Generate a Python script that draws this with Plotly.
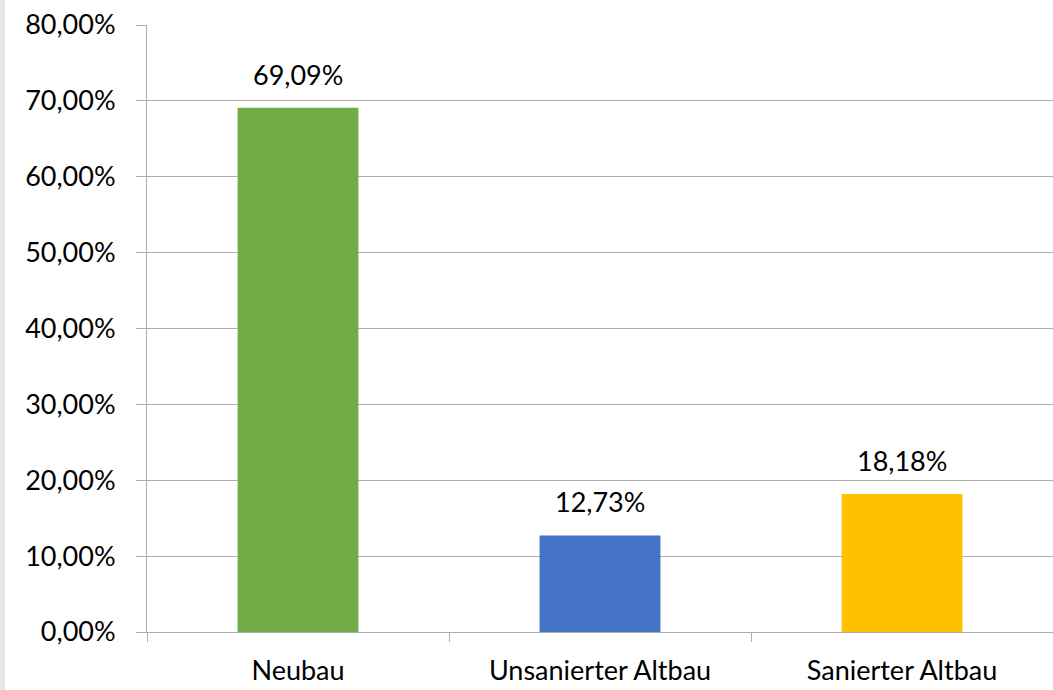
import plotly.graph_objects as go

categories = ["Neubau", "Unsanierter Altbau", "Sanierter Altbau"]
values = [0.6909, 0.1273, 0.1818]
colors = ["#70AD47", "#4472C4", "#FFC000"]
y_ticks = [0, 0.1, 0.2, 0.3, 0.4, 0.5, 0.6, 0.7, 0.8]

FONT = "Lato"
grid = "#ADADAD"
FS = 27

fig = go.Figure()
fig.add_trace(go.Bar(
    x=categories, y=values, marker=dict(color=colors, line=dict(width=0)),
    width=0.4, hoverinfo="skip",
))
for c, v in zip(categories, values):
    fig.add_annotation(
        x=c, y=v, text=f"{v*100:.2f}%".replace(".", ","),
        showarrow=False, yanchor="bottom", yshift=15,
        font=dict(family=FONT, size=FS, color="#000000"),
    )

fig.update_layout(
    width=1053, height=690,
    margin=dict(l=147, r=0, t=25, b=58, autoexpand=False),
    paper_bgcolor="white", plot_bgcolor="white",
    separators=",.",
    showlegend=False,
    font=dict(family=FONT, size=FS, color="#000000"),
    shapes=[dict(type="rect", xref="paper", yref="paper",
                 x0=-147/906, x1=-142/906, y0=-58/607, y1=1+25/607,
                 fillcolor="#E6E6E6", line=dict(width=0), layer="below")],
)
fig.update_yaxes(
    range=[0, 0.8], tickvals=y_ticks, tickformat=".2%",
    showgrid=True, gridcolor=grid, gridwidth=1,
    showline=True, linecolor=grid, linewidth=1,
    ticks="outside", ticklen=10, tickcolor=grid,
    ticklabelstandoff=15, automargin=False,
    zeroline=False,
    tickfont=dict(family=FONT, size=FS, color="#000000"),
)
fig.update_xaxes(
    showline=True, linecolor=grid, linewidth=1,
    ticks="outside", ticklen=9, tickcolor=grid, tickson="boundaries",
    showgrid=False, automargin=False, ticklabelstandoff=15,
    tickfont=dict(family=FONT, size=FS, color="#000000"),
)

fig.write_html(
    "out.html",
    config={"displayModeBar": False},
    post_script="document.body.style.margin='0';document.body.style.overflow='hidden';",
)
